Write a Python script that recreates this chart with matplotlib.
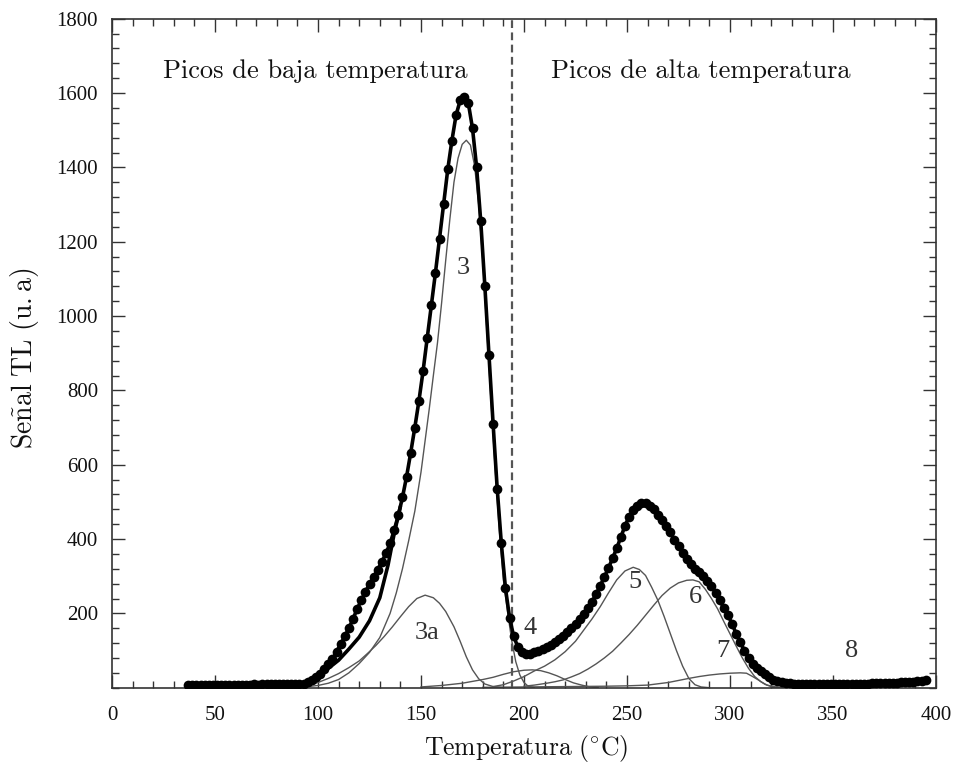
import numpy as np
import matplotlib
matplotlib.use("Agg")
import matplotlib.pyplot as plt
from matplotlib.ticker import MultipleLocator

plt.rcParams['mathtext.fontset'] = 'cm'

# ---------------- data ----------------
# measured glow curve, sampled every 2 degC starting at 37 degC
signal = [
    6, 6, 7, 6, 7, 7, 6, 7, 7, 7, 8, 7, 8, 8, 8, 8, 9, 8, 9, 9, 9, 9, 10, 9, 10, 10, 10,   # 37-89
    9, 11, 14, 20, 28, 38, 50, 63, 76, 97, 117, 138, 160, 185, 212, 235, 258, 279, 297,   # 91-125
    318, 338, 362, 388, 424, 464, 512, 568, 632, 700, 772, 852, 940, 1030, 1116, 1208,    # 127-159
    1302, 1395, 1472, 1540, 1580, 1590, 1572, 1505, 1400, 1255, 1080, 895, 710, 535,      # 161-187
    388, 268, 188, 138, 110, 97, 92, 92, 95, 99, 104, 110, 116, 123, 131, 140, 150, 160,  # 189-223
    172, 185, 199, 214, 231, 252, 274, 298, 322, 348, 375, 405, 435, 460, 478, 490, 497,  # 225-257
    496, 490, 480, 466, 452, 436, 418, 398, 380, 362, 345, 332, 320, 310, 300, 288, 274,  # 259-291
    256, 236, 214, 195, 172, 145, 122, 100, 80, 64, 53, 45, 36, 28, 22, 18, 15, 13, 12,   # 293-329
    11, 11, 10, 10, 10, 10, 10, 10, 10, 10, 10, 10, 10, 10, 10, 11, 11, 11, 11, 12, 12,   # 331-371
    12, 12, 13, 13, 13, 14, 14, 15, 16, 17, 18, 20,                                       # 373-395
]
temps = np.arange(37, 37 + 2 * len(signal), 2)

# fitted total (visible where it departs from the data points)
fit_T = [95, 100, 105, 110, 115, 120, 125, 130, 134, 137, 140]
fit_V = [14, 32, 52, 74, 104, 136, 180, 242, 330, 415, 488]

# deconvolved glow peaks
p3_T = [95, 100, 105, 110, 115, 120, 125, 130, 135, 138, 141, 144, 147, 150, 152, 154, 156,
        158, 160, 162, 164, 166, 168, 170, 172, 174, 176, 178, 180, 182, 184, 186, 188, 190,
        192, 194, 196, 198, 200, 202, 205]
p3_V = [3, 6, 12, 22, 40, 65, 95, 135, 200, 255, 320, 395, 475, 580, 665, 750, 840,
        928, 1035, 1150, 1260, 1360, 1425, 1462, 1473, 1460, 1405, 1300, 1150, 960, 770, 590,
        425, 290, 205, 128, 70, 34, 14, 4, 0]

p3a_T = [95, 100, 105, 110, 115, 120, 124, 128, 132, 136, 140, 144, 148, 152, 156, 159, 162,
         166, 169, 172, 175, 178, 181, 185, 190]
p3a_V = [6, 14, 25, 38, 54, 72, 92, 113, 137, 163, 191, 218, 240, 249, 242, 227, 205,
         164, 125, 83, 48, 24, 10, 3, 0]

p4_T = [150, 160, 170, 180, 185, 190, 195, 200, 204, 208, 212, 216, 220, 224, 228, 232, 236]
p4_V = [2, 6, 12, 22, 28, 36, 43, 47, 48, 46, 40, 32, 22, 13, 7, 2, 0]

p5_T = [185, 190, 195, 200, 205, 210, 215, 220, 225, 229, 233, 237, 241, 245, 249, 253, 256,
        259, 262, 265, 268, 271, 274, 277, 280, 283, 286, 290]
p5_V = [3, 8, 18, 30, 45, 58, 75, 97, 125, 155, 185, 218, 255, 290, 314, 324, 318,
        302, 270, 235, 192, 146, 100, 58, 25, 8, 2, 0]

p6_T = [200, 205, 211, 215, 219, 223, 227, 231, 235, 239, 243, 247, 251, 255, 259, 263, 267,
        271, 275, 279, 282, 285, 288, 291, 294, 297, 300, 303, 306, 309, 312, 315, 318, 322, 326]
p6_V = [4, 7, 12, 16, 21, 29, 38, 50, 64, 80, 98, 120, 143, 168, 195, 222, 248,
        268, 282, 289, 290, 285, 265, 240, 212, 178, 145, 112, 80, 52, 30, 16, 7, 2, 0]

p7_T = [180, 200, 220, 240, 250, 260, 270, 280, 285, 290, 295, 300, 305, 308, 311, 314, 317, 320, 323]
p7_V = [1, 2, 3, 4, 5, 7, 14, 25, 30, 34, 37, 39, 40, 39, 30, 20, 9, 3, 0]

p8_T = [320, 330, 340, 350, 360, 370, 380, 390, 396]
p8_V = [1, 2, 3, 4, 5, 6, 8, 11, 14]

components = [(p3_T, p3_V), (p3a_T, p3a_V), (p4_T, p4_V), (p5_T, p5_V),
              (p6_T, p6_V), (p7_T, p7_V), (p8_T, p8_V)]

peak_labels = ["3", "3a", "4", "5", "6", "7", "8"]
label_T = [170.5, 153, 203, 254, 283, 296.5, 359]
label_V = [1130, 148, 160, 285, 245, 100, 100]

boundary_T = 194
x_ticks = [0, 50, 100, 150, 200, 250, 300, 350, 400]
y_ticks = [200, 400, 600, 800, 1000, 1200, 1400, 1600, 1800]

# ---------------- figure ----------------
W, H = 956, 765
fig = plt.figure(figsize=(W / 100, H / 100), dpi=100)
ax = fig.add_axes([112 / W, 1 - 687.7 / H, (936 - 112) / W, (687.7 - 18.7) / H])

grey = '#555555'
for (cT, cV) in components:
    ax.plot(cT, cV, color=grey, lw=1.0, zorder=2)

ax.plot(fit_T, fit_V, color='black', lw=2.6, zorder=3, solid_capstyle='round')
ax.plot(temps, signal, color='black', lw=2.6, marker='o', markersize=7,
        markeredgewidth=0, zorder=4)

vl = ax.axvline(boundary_T, color=grey, lw=1.6, zorder=1)
vl.set_dashes([3.5, 2.0])

for lab, lx, ly in zip(peak_labels, label_T, label_V):
    ax.text(lx, ly, lab, fontsize=19, family='Liberation Serif', color='#333333',
            ha='center', va='center', zorder=5)

ax.text(98.5, 1660, 'Picos de baja temperatura', family='cmr10', fontsize=19,
        ha='center', va='center', color='#111111')
ax.text(286, 1660, 'Picos de alta temperatura', family='cmr10', fontsize=19,
        ha='center', va='center', color='#111111')

ax.set_xlim(0, 400)
ax.set_ylim(0, 1800)
ax.set_xticks(x_ticks)
ax.set_yticks(y_ticks)
ax.xaxis.set_minor_locator(MultipleLocator(10))
ax.yaxis.set_minor_locator(MultipleLocator(40))
ax.tick_params(which='both', direction='in', top=True, right=True, color='#333333', width=1.0)
ax.tick_params(which='major', length=9.5)
ax.tick_params(which='minor', length=5)
ax.tick_params(axis='x', which='major', pad=13)
ax.tick_params(axis='y', which='major', pad=10)
for t in ax.get_xticklabels() + ax.get_yticklabels():
    t.set_fontfamily('Liberation Serif')
    t.set_fontsize(15)
    t.set_color('#111111')
for s in ax.spines.values():
    s.set_linewidth(1.2)
    s.set_color('#333333')

fig.text(526 / W, 1 - 748 / H, r'$\mathrm{Temperatura\ (^{\circ}C)}$', fontsize=18.5,
         ha='center', va='center', color='#111111')
fig.text(25 / W, 1 - 358 / H, r'$\mathrm{Se\tilde{n}al\ TL\ (u.a)}$', fontsize=20,
         rotation=90, ha='center', va='center', color='#111111')

fig.savefig('out.png', dpi=100)
